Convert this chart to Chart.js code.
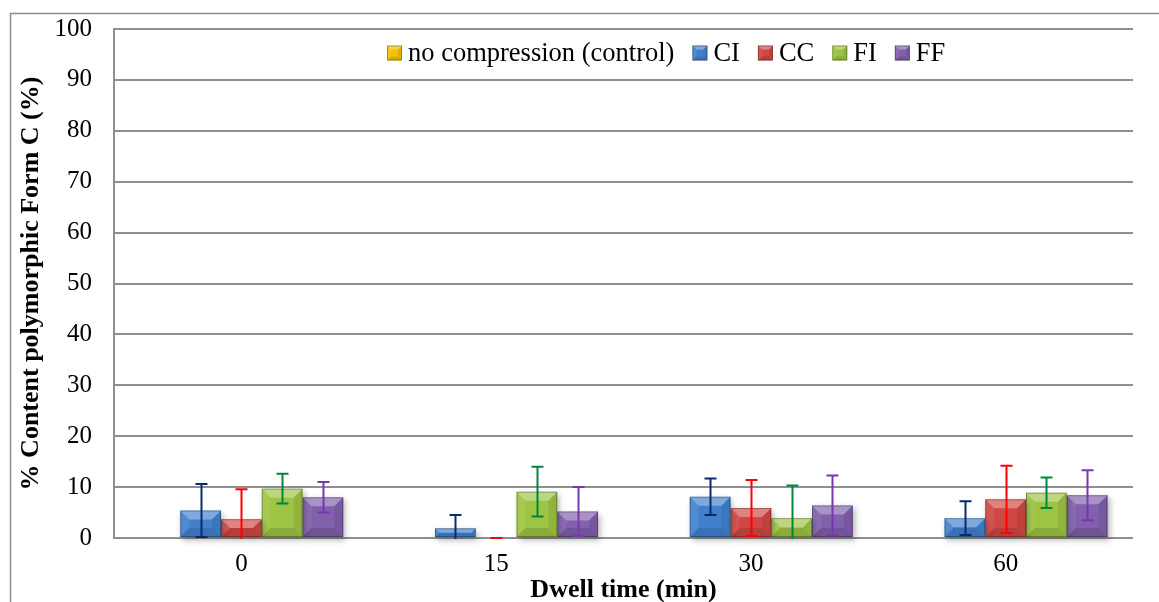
<!DOCTYPE html>
<html>
<head>
<meta charset="utf-8">
<title>Form C content vs dwell time</title>
<script src="https://cdn.jsdelivr.net/npm/chart.js@4.4.1/dist/chart.umd.min.js"></script>
<style>
  body { margin: 0; background: #fff; }
  canvas { display: block; }
</style>
</head>
<body>
<canvas id="myChart" width="1159" height="602"></canvas>
<script>
// dwell times (min) on the x axis
const dwellTimes = ['0', '15', '30', '60'];

// mean % form C per condition, and the error (±) drawn as bars
const control = [0, 0, 0, 0];
const ci = [5.4, 1.9, 8.1, 3.9];
const ciErr = [5.2, 2.6, 3.6, 3.3];
const cc = [3.7, 0, 5.9, 7.6];
const ccErr = [5.9, 0, 5.5, 6.6];
const fi = [9.7, 9.1, 3.9, 8.9];
const fiErr = [2.9, 4.9, 6.4, 3.0];
const ff = [8.0, 5.2, 6.4, 8.4];
const ffErr = [3.0, 4.8, 5.9, 4.9];

const yTicks = [0, 10, 20, 30, 40, 50, 60, 70, 80, 90, 100];

const serif = '"Liberation Serif", "Times New Roman", serif';

const datasets = [
  { label: 'no compression (control)', data: control, err: null, backgroundColor: '#F2C200', errColor: null },
  { label: 'CI', data: ci, err: ciErr, backgroundColor: '#4280CE', errColor: '#0B2A6E' },
  { label: 'CC', data: cc, err: ccErr, backgroundColor: '#D04744', errColor: '#FF0000' },
  { label: 'FI', data: fi, err: fiErr, backgroundColor: '#9DC443', errColor: '#00853F' },
  { label: 'FF', data: ff, err: ffErr, backgroundColor: '#8160AC', errColor: '#7A35B0' }
];

// gray frame round the whole figure
const framePlugin = {
  id: 'frame',
  beforeDraw(chart) {
    const ctx = chart.ctx;
    ctx.save();
    ctx.strokeStyle = '#8c8c8c';
    ctx.lineWidth = 1.5;
    ctx.beginPath();
    ctx.moveTo(10.5, chart.height);
    ctx.lineTo(10.5, 13.5);
    ctx.lineTo(chart.width, 13.5);
    ctx.stroke();
    ctx.restore();
  }
};

// soft drop shadow under the bars
const shadowPlugin = {
  id: 'barShadow',
  beforeDatasetsDraw(chart) {
    const ctx = chart.ctx;
    ctx.save();
    ctx.shadowColor = 'rgba(0,0,0,0.3)';
    ctx.shadowBlur = 6;
    ctx.shadowOffsetX = 2;
    ctx.shadowOffsetY = 3;
  },
  afterDatasetsDraw(chart) {
    chart.ctx.restore();
  }
};

function bevel(ctx, l, t, r, b, depth) {
  const d = Math.min(depth, (b - t) / 2, (r - l) / 2);
  if (d <= 0) return;
  const quad = (pts, fill) => {
    ctx.beginPath();
    ctx.moveTo(pts[0][0], pts[0][1]);
    for (let i = 1; i < pts.length; i++) ctx.lineTo(pts[i][0], pts[i][1]);
    ctx.closePath();
    ctx.fillStyle = fill;
    ctx.fill();
  };
  quad([[l, t], [r, t], [r - d, t + d], [l + d, t + d]], 'rgba(255,255,255,0.32)');
  quad([[l, t], [l + d, t + d], [l + d, b - d], [l, b]], 'rgba(255,255,255,0.08)');
  quad([[r, t], [r - d, t + d], [r - d, b - d], [r, b]], 'rgba(0,0,0,0.08)');
  quad([[l, b], [l + d, b - d], [r - d, b - d], [r, b]], 'rgba(0,0,0,0.12)');
  ctx.strokeStyle = 'rgba(0,0,0,0.28)';
  ctx.lineWidth = 1;
  ctx.strokeRect(l + 0.5, t + 0.5, r - l - 1, b - t - 1);
}

// bevelled edges on each bar
const bevelPlugin = {
  id: 'bevel',
  afterDatasetsDraw(chart) {
    const ctx = chart.ctx;
    ctx.save();
    chart.data.datasets.forEach((ds, i) => {
      const meta = chart.getDatasetMeta(i);
      meta.data.forEach(bar => {
        const l = bar.x - bar.width / 2, r = bar.x + bar.width / 2;
        const t = Math.min(bar.y, bar.base), b = Math.max(bar.y, bar.base);
        if (b - t < 1) return;
        bevel(ctx, l, t, r, b, 9);
      });
    });
    ctx.restore();
  }
};

// ± error bars with caps, clipped at the axis
const errorPlugin = {
  id: 'errorBars',
  afterDatasetsDraw(chart) {
    const ctx = chart.ctx;
    const y = chart.scales.y;
    const area = chart.chartArea;
    ctx.save();
    ctx.beginPath();
    ctx.rect(area.left, area.top - 20, area.right - area.left, area.bottom - area.top + 21);
    ctx.clip();
    chart.data.datasets.forEach((ds, i) => {
      if (!ds.err) return;
      const meta = chart.getDatasetMeta(i);
      ctx.strokeStyle = ds.errColor;
      ctx.lineWidth = 2;
      meta.data.forEach((bar, j) => {
        const v = ds.data[j], e = ds.err[j];
        const yTop = y.getPixelForValue(v + e);
        const yBot = y.getPixelForValue(v - e);
        const x = Math.round(bar.x) + 0.5;
        const cap = 6;
        ctx.beginPath();
        ctx.moveTo(x, yTop);
        ctx.lineTo(x, yBot);
        ctx.moveTo(x - cap, yTop);
        ctx.lineTo(x + cap, yTop);
        ctx.moveTo(x - cap, yBot);
        ctx.lineTo(x + cap, yBot);
        ctx.stroke();
      });
    });
    ctx.restore();
  }
};

// legend drawn inside the plot, across the top
const legendPlugin = {
  id: 'innerLegend',
  afterDraw(chart) {
    const ctx = chart.ctx;
    const area = chart.chartArea;
    ctx.save();
    ctx.font = '26.5px ' + serif;
    ctx.textBaseline = 'middle';
    ctx.fillStyle = '#000';
    let x = area.left + 273;
    const cy = area.top + 24;
    const box = 15;
    chart.data.datasets.forEach(ds => {
      ctx.fillStyle = ds.backgroundColor;
      ctx.fillRect(x, cy - box / 2, box, box);
      bevel(ctx, x, cy - box / 2, x + box, cy + box / 2, 4);
      ctx.fillStyle = '#000';
      ctx.fillText(ds.label, x + box + 6, cy + 1);
      x += box + 6 + ctx.measureText(ds.label).width + 18;
    });
    ctx.restore();
  }
};

const ctx = document.getElementById('myChart').getContext('2d');

const chart = new Chart(ctx, {
  type: 'bar',
  data: {
    labels: dwellTimes,
    datasets: datasets.map(d => ({
      label: d.label,
      data: d.data,
      err: d.err,
      errColor: d.errColor,
      backgroundColor: d.backgroundColor,
      borderWidth: 0,
      categoryPercentage: 0.8,
      barPercentage: 1.0,
      clip: false
    }))
  },
  options: {
    responsive: false,
    animation: false,
    layout: { padding: { left: 14, top: 29, right: 26, bottom: 0 } },
    plugins: {
      legend: { display: false },
      tooltip: { enabled: false }
    },
    scales: {
      x: {
        grid: { display: false, drawTicks: false },
        border: { display: false },
        ticks: { padding: 11, color: '#000', font: { family: serif, size: 25 } },
        title: {
          display: true,
          text: 'Dwell time (min)',
          color: '#000',
          font: { family: serif, size: 26, weight: 'bold' },
          padding: { top: 0, bottom: -4 }
        },
        afterFit(scale) { scale.height = 64; }
      },
      y: {
        min: 0,
        max: 100,
        afterBuildTicks(scale) { scale.ticks = yTicks.map(v => ({ value: v })); },
        grid: { color: '#8f8f8f', lineWidth: 2, drawTicks: false },
        border: { display: true, color: '#8f8f8f', width: 2 },
        ticks: { padding: 22, color: '#000', font: { family: serif, size: 25 } },
        title: {
          display: true,
          text: '% Content polymorphic Form C (%)',
          color: '#000',
          font: { family: serif, size: 26, weight: 'bold' },
          padding: { top: 2, bottom: 0 }
        },
        afterFit(scale) {
          scale.width = 100;
          scale.paddingTop = 0;
          scale.paddingBottom = 0;
        }
      }
    }
  },
  plugins: [framePlugin, shadowPlugin, bevelPlugin, errorPlugin, legendPlugin]
});
</script>
</body>
</html>
